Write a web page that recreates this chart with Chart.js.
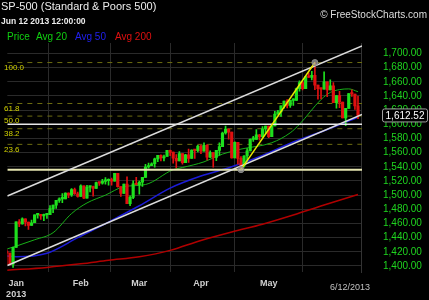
<!DOCTYPE html>
<html>
<head>
<meta charset="utf-8">
<script src="https://cdn.jsdelivr.net/npm/chart.js@4.4.1/dist/chart.umd.min.js"></script>
<style>
html, body { margin: 0; padding: 0; background: #000; overflow: hidden; }
#chart { display: block; }
</style>
</head>
<body>
<canvas id="chart" width="429" height="300"></canvas>
<script>
// trading days, index -3 = Dec 27 2012, 0 = Jan 2 2013, 111 = Jun 12 2013
const firstIndex = -3;
const opens = [1419.8,1418.1,1402.4,
  1426.2,1462.4,1459.4,1466.5,1461.9,1457.2,1461.0,1472.1,1472.1,1470.7,1472.3,1472.6,
  1480.9,1486.0,1492.6,1494.8,1494.8,1503.0,1500.2,1507.8,1502.0,
  1498.1,1513.2,1495.7,1511.3,1512.1,1509.4,1517.9,1517.0,1519.4,1520.3,1521.4,
  1519.8,1530.9,1512.0,1502.4,1515.6,1487.9,1496.9,1516.0,
  1514.7,1518.2,1525.2,1539.8,1541.5,1544.3,1551.2,1556.2,1552.5,1554.5,1563.2,
  1560.7,1552.1,1548.3,1558.7,1545.8,1556.9,1551.7,1563.8,1562.9,
  1569.2,1562.2,1570.3,1553.7,1560.0,1553.3,1563.1,1568.6,1587.7,1593.4,
  1588.9,1552.4,1574.6,1552.0,1541.6,1555.3,1562.5,1578.8,1578.8,1585.2,1582.2,1593.6,
  1597.6,1582.7,1597.6,1614.4,1617.5,1626.0,1632.7,1626.7,1633.7,1633.8,1650.3,
  1658.8,1650.5,1667.5,1666.3,1669.2,1655.4,1650.5,1649.6,1660.1,1648.4,1654.4,
  1630.7,1640.4,1631.4,1608.9,1622.6,1643.4,1642.8,1626.1];
const highs = [1422.8,1418.1,1426.7,
  1462.4,1465.5,1467.9,1466.5,1461.9,1464.7,1472.3,1472.8,1472.1,1473.3,1473.0,1485.2,
  1486.0,1492.6,1496.1,1502.3,1503.3,1503.2,1509.3,1509.9,1504.2,
  1514.4,1513.2,1514.0,1512.5,1512.9,1518.3,1518.3,1522.3,1524.7,1523.1,1524.2,
  1530.9,1530.9,1512.0,1515.6,1525.8,1498.9,1520.1,1525.3,
  1519.9,1525.3,1543.5,1545.3,1545.8,1552.5,1556.3,1556.8,1556.4,1563.3,1563.6,
  1560.7,1557.3,1561.6,1558.7,1557.7,1564.9,1563.9,1564.1,1570.3,
  1570.6,1573.7,1571.5,1562.6,1560.0,1563.1,1573.9,1589.1,1597.4,1593.4,
  1588.9,1575.4,1574.6,1554.4,1555.9,1565.6,1579.6,1583.0,1592.6,1585.8,1596.7,1597.6,
  1597.6,1598.6,1618.5,1619.8,1626.0,1632.8,1635.0,1633.7,1636.0,1651.1,1661.5,
  1660.5,1667.5,1672.8,1674.9,1687.2,1655.4,1650.5,1674.2,1660.1,1662.7,1658.9,
  1640.4,1646.5,1631.4,1622.6,1643.4,1648.7,1642.8,1640.0];
const lows = [1401.8,1401.6,1398.1,
  1426.2,1455.5,1459.0,1456.6,1451.6,1457.2,1461.0,1467.6,1465.7,1463.8,1467.0,1472.6,
  1475.3,1481.2,1489.9,1489.5,1494.8,1496.3,1498.1,1501.0,1497.3,
  1498.1,1495.0,1495.7,1504.7,1498.5,1509.4,1513.6,1515.6,1515.6,1514.0,1514.1,
  1519.8,1511.4,1498.1,1502.4,1487.9,1485.0,1494.9,1514.5,
  1501.5,1512.3,1525.2,1538.1,1541.5,1539.4,1547.4,1548.2,1548.3,1554.5,1555.7,
  1545.1,1538.6,1548.3,1543.6,1545.8,1546.2,1551.7,1551.9,1561.1,
  1558.5,1562.2,1549.8,1552.9,1539.5,1548.6,1556.5,1568.6,1586.2,1579.0,
  1552.3,1552.4,1543.7,1536.0,1539.4,1548.2,1562.5,1575.8,1578.8,1577.6,1582.2,1586.5,
  1581.3,1582.7,1597.6,1614.2,1611.0,1622.7,1623.1,1623.7,1626.7,1633.8,1646.7,
  1648.6,1650.5,1666.1,1662.7,1648.9,1635.5,1636.0,1649.6,1639.0,1648.4,1630.7,
  1622.7,1623.6,1608.9,1598.2,1622.6,1639.3,1621.0,1608.1];
const closes = [1418.1,1402.4,1426.2,
  1462.4,1459.4,1466.5,1461.9,1457.2,1461.0,1472.1,1472.1,1470.7,1472.3,1472.6,1480.9,
  1486.0,1492.6,1494.8,1494.8,1503.0,1500.2,1507.8,1502.0,1498.1,
  1513.2,1495.7,1511.3,1512.1,1509.4,1517.9,1517.0,1519.4,1520.3,1521.4,1519.8,
  1530.9,1512.0,1502.4,1515.6,1487.9,1496.9,1516.0,1514.7,
  1518.2,1525.2,1539.8,1541.5,1544.3,1551.2,1556.2,1552.5,1554.5,1563.2,1560.7,
  1552.1,1548.3,1558.7,1545.8,1556.9,1551.7,1563.8,1562.9,1569.2,
  1562.2,1570.3,1553.7,1560.0,1553.3,1563.1,1568.6,1587.7,1593.4,1588.9,
  1552.4,1574.6,1552.0,1541.6,1555.3,1562.5,1578.8,1578.8,1585.2,1582.2,1593.6,1597.6,
  1582.7,1597.6,1614.4,1617.5,1626.0,1632.7,1626.7,1633.7,1633.8,1650.3,1658.8,
  1650.5,1667.5,1666.3,1669.2,1655.4,1650.5,1649.6,1660.1,1648.4,1654.4,1630.7,
  1640.4,1631.4,1608.9,1622.6,1643.4,1642.8,1626.1,1612.5];

// moving averages (day index, value)
const ma20Days = [-3,0,6,12,18,23,29,35,42,51,54,61,67,73,83,89,92,99,102,105,108,111];
const ma20 = [1424,1428,1437,1447,1474,1489,1500,1512,1515,1536,1539,1547,1558,1565,1574,1588,1600,1635,1645,1649,1650,1646];
const ma50Days = [-3,0,10,20,30,40,50,60,70,80,90,100,111];
const ma50 = [1414,1413,1418,1440,1462,1485,1510,1527,1540,1556,1575,1591,1610];
const ma200Days = [-3,10,21,30,40,50,60,70,80,90,100,111];
const ma200 = [1394,1398,1403,1408,1413,1422,1436,1448,1459,1472,1486,1501];

// drawn studies
const xMin = -2.86, xMax = 112.3;
const channelDays = [xMin, xMax];
const upperChannel = [1498.8, 1710.6];
const lowerChannel = [1400.7, 1613.9];
const swingDays = [73, 97];
const swingPrices = [1536.0, 1687.2];
const resistance = 1600;
const fibLevels = [1687.2, 1629.4, 1611.6, 1593.8, 1571.7];
const fibLabels = ['100.0', '61.8', '50.0', '38.2', '23.6'];
const lastPrice = 1612.52;

// axes
const yMin = 1391.5, yMax = 1714.8;
const yTicks = [1400,1420,1440,1460,1480,1500,1520,1540,1560,1580,1600,1620,1640,1660,1680,1700];
const monthTicks = [0, 21, 40, 60, 82, 104];
const monthLabels = [['Jan', '2013'], 'Feb', 'Mar', 'Apr', 'May', ''];

const UP = '#1ee01e', DOWN = '#e01010';
const candleColors = closes.map((c, k) => c >= opens[k] ? UP : DOWN);
const wickData = highs.map((h, k) => ({x: firstIndex + k, y: [lows[k], h]}));
const bodyData = closes.map((c, k) => ({x: firstIndex + k, y: [opens[k], c]}));

function pts(xs, ys) { return xs.map((x, k) => ({x: x, y: ys[k]})); }
function flat(v) { return [{x: xMin, y: v}, {x: xMax, y: v}]; }

const datasets = [];
fibLevels.forEach(v => datasets.push({
    type: 'line', data: flat(v), borderColor: '#6c6c10', borderWidth: 1,
    borderDash: [5, 5], pointRadius: 0, order: 20
}));
datasets.push(
  {type: 'line', data: pts(ma200Days, ma200), borderColor: '#b00000', borderWidth: 1.5, pointRadius: 0, cubicInterpolationMode: 'monotone', order: 15},
  {type: 'line', data: pts(ma50Days, ma50), borderColor: '#1c1cd8', borderWidth: 1.5, pointRadius: 0, cubicInterpolationMode: 'monotone', order: 14},
  {type: 'line', data: pts(ma20Days, ma20), borderColor: '#18b018', borderWidth: 1, pointRadius: 0, cubicInterpolationMode: 'monotone', order: 13},
  {type: 'bar', data: wickData, backgroundColor: candleColors, barThickness: 1, grouped: false, order: 10},
  {type: 'bar', data: bodyData, backgroundColor: candleColors, barThickness: 2.5, minBarLength: 1.5, grouped: false, order: 9},
  {type: 'line', data: flat(resistance), borderColor: '#e8e8e8', borderWidth: 1.5, pointRadius: 0, order: 5},
  {type: 'line', data: flat(swingPrices[0]), borderColor: '#e6e6b0', borderWidth: 2, pointRadius: 0, order: 5},
  {type: 'line', data: pts(channelDays, upperChannel), borderColor: '#dcdcdc', borderWidth: 1.5, pointRadius: 0, order: 4},
  {type: 'line', data: pts(channelDays, lowerChannel), borderColor: '#dcdcdc', borderWidth: 1.5, pointRadius: 0, order: 4},
  {type: 'line', data: pts(swingDays, swingPrices), borderColor: '#e8e800', borderWidth: 1.5,
   pointRadius: 3, pointBackgroundColor: 'rgba(170,170,170,0.7)', pointBorderColor: '#8a8a8a', pointBorderWidth: 1, order: 2}
);

const overlay = {
  id: 'overlay',
  afterDatasetsDraw(chart) {
    const ctx = chart.ctx, y = chart.scales.y;
    ctx.save();
    ctx.font = '8px "Liberation Sans"';
    ctx.fillStyle = '#d2d200';
    ctx.textBaseline = 'middle';
    fibLevels.forEach((v, k) => ctx.fillText(fibLabels[k], 4, y.getPixelForValue(v) + 5));
    ctx.restore();
  },
  afterDraw(chart) {
    const ctx = chart.ctx, y = chart.scales.y;
    ctx.save();
    ctx.textBaseline = 'middle';
    ctx.fillStyle = '#ececec';
    ctx.font = '11px "Liberation Sans"';
    ctx.fillText('SP-500 (Standard & Poors 500)', 1, 7);
    ctx.font = 'bold 8.5px "Liberation Sans"';
    ctx.fillText('Jun 12 2013 12:00:00', 1, 22);
    ctx.font = '10px "Liberation Sans"';
    ctx.fillStyle = '#dddddd';
    ctx.textAlign = 'right';
    ctx.fillText('\u00a9 FreeStockCharts.com', 427, 15);
    ctx.textAlign = 'left';
    const legend = [['Price', '#10d010', 7], ['Avg 20', '#10d010', 36], ['Avg 50', '#2020ee', 75], ['Avg 200', '#e01010', 115]];
    legend.forEach(l => { ctx.fillStyle = l[1]; ctx.fillText(l[0], l[2], 37); });
    // date under last bar
    ctx.font = '9px "Liberation Sans"';
    ctx.fillStyle = '#c0c0c0';
    ctx.textAlign = 'center';
    ctx.fillText('6/12/2013', 350, 288);
    // last price box
    const py = y.getPixelForValue(lastPrice);
    ctx.fillStyle = '#000';
    ctx.strokeStyle = '#a0a0a0';
    ctx.lineWidth = 1;
    ctx.beginPath();
    ctx.roundRect(382.5, py - 6.5, 45, 13, 2);
    ctx.fill();
    ctx.stroke();
    ctx.fillStyle = '#ffffff';
    ctx.font = '10px "Liberation Sans"';
    ctx.fillText(lastPrice.toLocaleString('en-US', {minimumFractionDigits: 2}), 405, py + 0.5);
    ctx.restore();
  }
};

const chart = new Chart(document.getElementById('chart'), {
  type: 'bar',
  data: {datasets: datasets},
  plugins: [overlay],
  options: {
    responsive: false,
    animation: false,
    devicePixelRatio: 1,
    layout: {padding: {top: 43, left: 0, right: 0, bottom: 0}},
    plugins: {legend: {display: false}, tooltip: {enabled: false}},
    scales: {
      x: {
        type: 'linear', min: xMin, max: xMax, offset: false,
        grid: {color: '#2a2a2a', drawTicks: false},
        border: {display: false},
        afterBuildTicks: s => { s.ticks = monthTicks.map(v => ({value: v})); },
        afterFit: s => { s.height = 28; },
        ticks: {
          padding: 6, color: '#d0d0d0', maxRotation: 0, autoSkip: false,
          font: {family: 'Liberation Sans', size: 9, weight: 'bold'},
          callback: (v, i) => monthLabels[i]
        }
      },
      y: {
        position: 'right', min: yMin, max: yMax,
        grid: {color: '#2a2a2a', drawTicks: false},
        border: {display: true, color: '#333333'},
        afterBuildTicks: s => { s.ticks = yTicks.map(v => ({value: v})); },
        afterFit: s => { s.width = 67; },
        ticks: {
          padding: 21, color: '#1fd51f',
          font: {family: 'Liberation Sans', size: 10},
          callback: v => v.toLocaleString('en-US', {minimumFractionDigits: 2})
        }
      }
    }
  }
});
</script>
</body>
</html>
